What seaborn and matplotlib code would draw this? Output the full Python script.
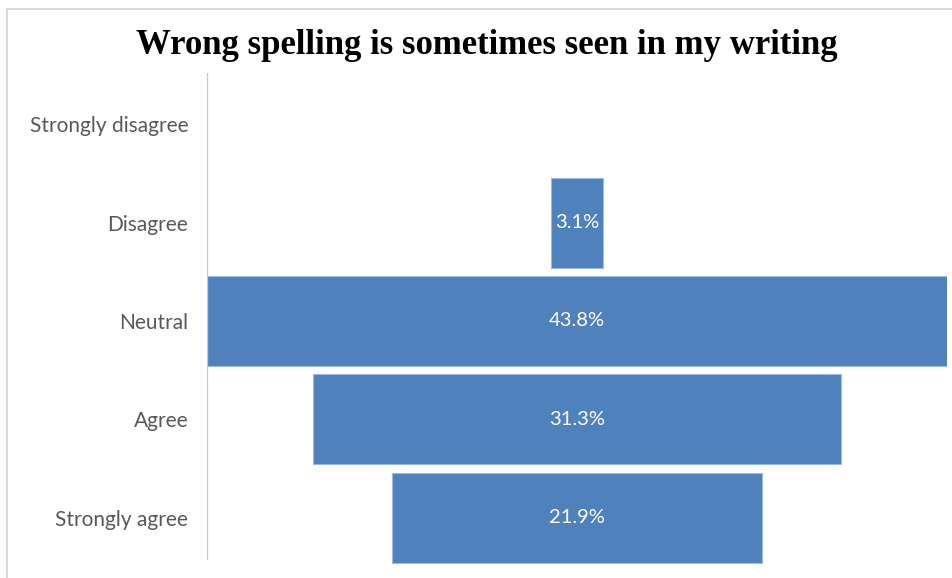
import numpy as np
import pandas as pd
import matplotlib
matplotlib.use("Agg")
import matplotlib.pyplot as plt
import seaborn as sns

categories = ["Strongly disagree", "Disagree", "Neutral", "Agree", "Strongly agree"]
percentages = [0.0, 3.1, 43.8, 31.3, 21.9]
title = "Wrong spelling is sometimes seen in my writing"

df = pd.DataFrame({"response": categories, "pct": percentages})
peak = max(percentages)
# centre every bar on the widest one to form a funnel
df["offset"] = (peak - df["pct"]) / 2.0

sns.set_theme(style="white")
plt.rcParams["font.family"] = ["Lato", "DejaVu Sans"]

fig = plt.figure(figsize=(9.53, 5.78), dpi=100)
ax = fig.add_axes([207 / 953, 1 - 567 / 578, 740 / 953, 492 / 578])

bar_color = "#4F81BD"
sns.barplot(data=df, x="pct", y="response", order=categories, orient="y",
            color=bar_color, saturation=1, width=0.915, left=df["offset"].values,
            edgecolor="#9dbbe0", linewidth=0.8, ax=ax)

# empty categories get no outline
for patch in ax.patches:
    if patch.get_width() == 0:
        patch.set_linewidth(0)
        patch.set_visible(False)

ax.set_xlim(0, peak)
ax.set_xlabel("")
ax.set_ylabel("")
ax.set_xticks([])
ax.tick_params(axis="y", length=0, pad=13.5, labelsize=15, labelcolor="#595959")
for side in ["top", "right", "bottom"]:
    ax.spines[side].set_visible(False)
ax.spines["left"].set_color("#c8c8c8")
ax.spines["left"].set_linestyle((0, (1.5, 1)))
ax.spines["left"].set_linewidth(0.9)
ax.spines["left"].set_bounds(-0.52, 4.42)

for i, (v, off) in enumerate(zip(df["pct"], df["offset"])):
    if v > 0:
        ax.text(off + v / 2, i, f"{v:.1f}%", ha="center", va="center",
                color="white", fontsize=14.5)

fig.text(487 / 953, 1 - 45 / 578, title, ha="center", va="center",
         family="Liberation Serif", fontweight="bold", fontsize=25, color="black")

# light chart-area border along the top and left edges
fig.add_artist(plt.Line2D([6.5 / 953, 1], [1 - 8.5 / 578] * 2, color="#d9d9d9", lw=1.5))
fig.add_artist(plt.Line2D([6.5 / 953] * 2, [0, 1 - 8.5 / 578], color="#d9d9d9", lw=1.5))

fig.savefig("out.png", dpi=100, facecolor="white")
